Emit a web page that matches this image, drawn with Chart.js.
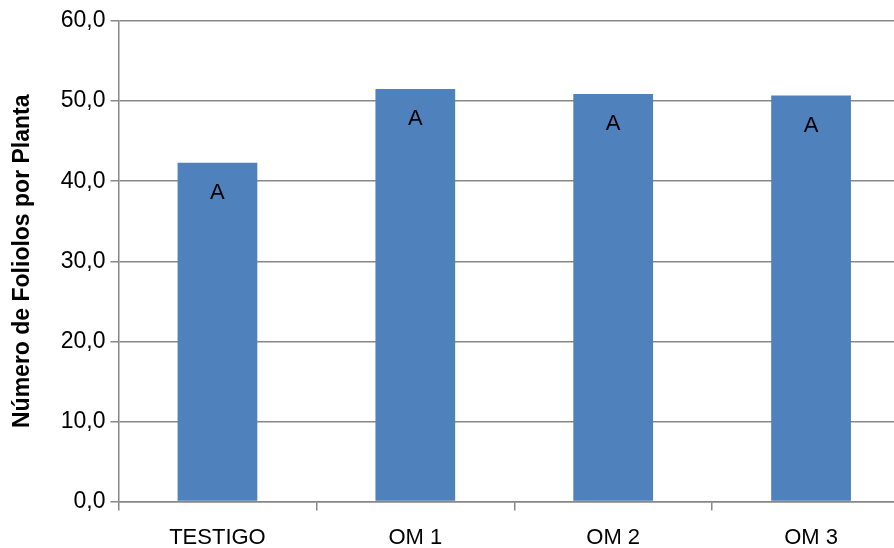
<!DOCTYPE html>
<html>
<head>
<meta charset="utf-8">
<script src="https://cdn.jsdelivr.net/npm/chart.js@4/dist/chart.umd.min.js"></script>
<style>
  html, body { margin: 0; padding: 0; background: #fff; overflow: hidden; }
  #wrap { width: 894px; height: 548px; overflow: hidden; position: relative; }
  #box { width: 910px; height: 548px; position: absolute; left: 0; top: 0; }
</style>
</head>
<body>
<div id="wrap"><div id="box"><canvas id="c"></canvas></div></div>
<script>
const categories = ['TESTIGO', 'OM 1', 'OM 2', 'OM 3'];
const foliolos = [42.3, 51.5, 50.9, 50.7];
const letters = ['A', 'A', 'A', 'A'];
const yTicks = [0, 10, 20, 30, 40, 50, 60];

const FONT = "'Liberation Sans', 'Open Sans', sans-serif";
const GRID = '#878787';

// significance letters drawn just inside the top of each bar
const letterPlugin = {
  id: 'letters',
  afterDatasetsDraw(chart) {
    const ctx = chart.ctx;
    const meta = chart.getDatasetMeta(0);
    ctx.save();
    ctx.font = `22px ${FONT}`;
    ctx.fillStyle = '#000';
    ctx.textAlign = 'center';
    ctx.textBaseline = 'middle';
    meta.data.forEach((bar, i) => {
      ctx.fillText(letters[i], bar.x, bar.y + 30);
    });
    ctx.restore();
  }
};

new Chart(document.getElementById('c'), {
  type: 'bar',
  data: {
    labels: categories,
    datasets: [{
      data: foliolos,
      backgroundColor: '#4F81BD',
      borderWidth: 0,
      barPercentage: 1,
      categoryPercentage: 0.403
    }]
  },
  options: {
    responsive: true,
    maintainAspectRatio: false,
    animation: false,
    layout: { padding: { top: 21, left: 0, right: 0, bottom: 0 } },
    plugins: { legend: { display: false }, tooltip: { enabled: false } },
    scales: {
      x: {
        grid: { drawOnChartArea: false, color: GRID, lineWidth: 1.5, tickLength: 9 },
        border: { color: GRID, width: 1.5 },
        ticks: { color: '#000', font: { family: FONT, size: 22 }, padding: 14 },
        afterFit(s) { s.height = 46.5; }
      },
      y: {
        min: 0, max: 60,
        afterBuildTicks(s) { s.ticks = yTicks.map(v => ({ value: v })); },
        grid: { color: GRID, lineWidth: 1.5, tickLength: 8 },
        border: { color: GRID, width: 1.5 },
        ticks: {
          color: '#000', font: { family: FONT, size: 23 }, padding: 5,
          callback: v => v.toFixed(1).replace('.', ',')
        },
        title: {
          display: true, text: 'Número de Foliolos por Planta',
          color: '#000', font: { family: FONT, size: 23, weight: 'bold' },
          padding: { top: 9, bottom: 0 }
        },
        afterFit(s) { s.width = 118.5; }
      }
    }
  },
  plugins: [letterPlugin]
});
</script>
</body>
</html>
